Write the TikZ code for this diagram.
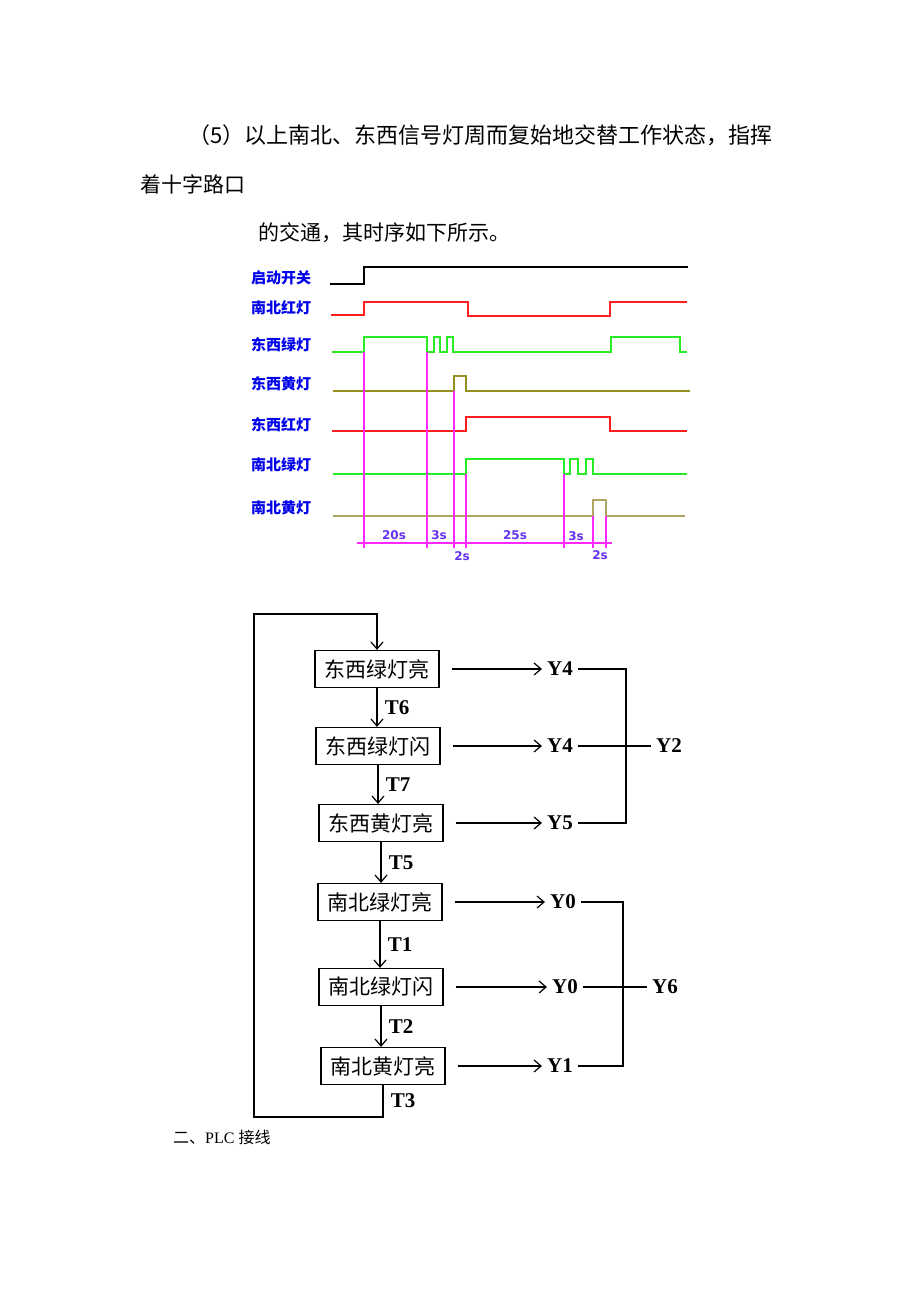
\documentclass[tikz,border=0pt]{standalone}
\usepackage{fontspec}
\setmainfont{Liberation Serif}
\newfontfamily\cjk{Noto Sans CJK SC}
\newfontfamily\dvs{DejaVu Sans}
\usetikzlibrary{arrows.meta}
\definecolor{lblue}{RGB}{0,0,235}
\definecolor{tcol}{RGB}{100,50,240}
\definecolor{pink}{RGB}{255,40,255}
\definecolor{wred}{RGB}{255,30,30}
\definecolor{wgreen}{RGB}{40,235,40}
\definecolor{wolive}{RGB}{150,145,30}
\definecolor{wkhaki}{RGB}{175,165,100}
\begin{document}
\begin{tikzpicture}[x=1pt,y=-1pt,>={Straight Barb[length=7pt,width=12pt]},
    txt/.style={inner sep=0pt,anchor=west,font=\cjk\fontsize{21}{21}\selectfont},
    lab/.style={text=lblue,font=\cjk\bfseries\fontsize{15}{15}\selectfont},
    sec/.style={text=tcol,inner sep=1pt,font=\dvs\bfseries\fontsize{12}{12}\selectfont},
    wave/.style={line width=1.1pt},
    vline/.style={pink,line width=1.1pt},
    box/.style={draw,line width=1.2pt,minimum width=124pt,minimum height=37pt,inner sep=0pt,font=\cjk\fontsize{21}{21}\selectfont},
    ylab/.style={inner xsep=5pt,font=\bfseries\fontsize{21}{21}\selectfont},
    tlab/.style={anchor=west,xshift=4pt,font=\bfseries\fontsize{21}{21}\selectfont},
    flow/.style={line width=1.2pt}]
\path[use as bounding box,fill=white](0,0)rectangle(920,1302);
\node[txt,font=\cjk\fontsize{22}{22}\selectfont](p1)at(188,135){（5）以上南北、东西信号灯周而复始地交替工作状态，指挥};
\node[txt](p2)at(140,184){着十字路口};
\node[txt](p3)at(258,233){的交通，其时序如下所示。};
% timing chart
\node[lab](s0)at(281,278){启动开关};
\node[lab](s1)at(281,308){南北红灯};
\node[lab](s2)at(281,345){东西绿灯};
\node[lab](s3)at(281,384){东西黄灯};
\node[lab](s4)at(281,425){东西红灯};
\node[lab](s5)at(281,465){南北绿灯};
\node[lab](s6)at(281,508){南北黄灯};
\draw[wave](330,284)--(364,284)--(364,267)--(688,267);
\draw[wave,wred](331,315)--(364,315)--(364,302)--(468,302)--(468,316)--(610,316)--(610,302)--(687,302);
\draw[wave,wgreen](332,352)--(364,352)--(364,337)--(427,337)--(427,352)--(434,352)--(434,337)--(440,337)--(440,352)
    --(447,352)--(447,337)--(453,337)--(453,352)--(611,352)--(611,337)--(680,337)--(680,352)--(687,352);
\draw[wave,wolive](333,391)--(454,391)--(454,376)--(466,376)--(466,391)--(690,391);
\draw[wave,wred](332,431)--(466,431)--(466,417)--(610,417)--(610,431)--(687,431);
\draw[wave,wgreen](333,474)--(466,474)--(466,459)--(564,459)--(564,474)--(570,474)--(570,459)--(578,459)--(578,474)
    --(586,474)--(586,459)--(593,459)--(593,474)--(687,474);
\draw[wave,wkhaki](333,516)--(593,516)--(593,500)--(606,500)--(606,516)--(685,516);
\draw[vline](364,352)--(364,548) (427,352)--(427,548) (454,391)--(454,548) (466,474)--(466,548)
    (564,474)--(564,548) (593,516)--(593,548) (606,516)--(606,548) (357,543)--(612,543);
\node[sec](d1)at(394,535){20s};
\node[sec](d2)at(439,535){3s};
\node[sec](d3)at(462,556){2s};
\node[sec](d4)at(515,535){25s};
\node[sec](d5)at(576,536){3s};
\node[sec](d6)at(600,555){2s};
% flow chart
\node[box](b1)at(377,669){东西绿灯亮};
\node[box](b2)at(378,746){东西绿灯闪};
\node[box](b3)at(381,823){东西黄灯亮};
\node[box](b4)at(380,902){南北绿灯亮};
\node[box](b5)at(381,987){南北绿灯闪};
\node[box](b6)at(383,1066){南北黄灯亮};
\node[ylab](y1)at(560,669){Y4};
\node[ylab](y2)at(560,746){Y4};
\node[ylab](y3)at(560,823){Y5};
\node[ylab](y4)at(563,902){Y0};
\node[ylab](y5)at(565,987){Y0};
\node[ylab](y6)at(560,1066){Y1};
\node[ylab](q1)at(669,746){Y2};
\node[ylab](q2)at(665,987){Y6};
\coordinate(top)at(254,614);
\coordinate(bot)at(254,1117);
\draw[flow,->](b1.south)--node[tlab]{T6}(b1.south|-b2.north);
\draw[flow,->](b2.south)--node[tlab]{T7}(b2.south|-b3.north);
\draw[flow,->](b3.south)--node[tlab]{T5}(b3.south|-b4.north);
\draw[flow,->](b4.south)--node[tlab]{T1}(b4.south|-b5.north);
\draw[flow,->](b5.south)--node[tlab]{T2}(b5.south|-b6.north);
\draw[flow,->](b6.south)--node[tlab]{T3}(b6.south|-bot)--(bot)--(top)-|(b1.north);
\foreach \i in {1,...,6}
    \draw[flow,->]([xshift=12pt]b\i.east)--(y\i.west);
\draw[flow](y1.east)-|(626,823)--(y3.east);
\draw[flow](y2.east)--(q1.west);
\draw[flow](y4.east)-|(623,1066)--(y6.east);
\draw[flow](y5.east)--(q2.west);
\node[anchor=west,inner sep=0pt,font=\fontsize{16}{16}\selectfont](h2)at(173,1137){{\cjk 二、}PLC {\cjk 接线}};
\end{tikzpicture}
\end{document}
